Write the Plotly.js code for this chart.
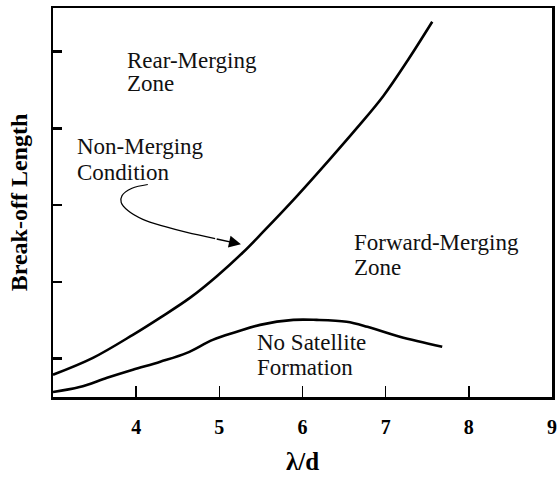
<!DOCTYPE html>
<html>
<head>
<meta charset="utf-8">
<script src="https://cdn.plot.ly/plotly-3.0.1.min.js"></script>
<style>html,body{margin:0;padding:0;background:#fff;}#chart{width:559px;height:477px;}</style>
</head>
<body>
<div id="chart"></div>
<script>
// Upper boundary (merging transition)
const upperX = [3.00, 3.48, 3.96, 4.29, 4.65, 4.97, 5.28, 5.52, 5.93, 6.33, 6.65, 6.97, 7.27, 7.56];
const upperY = [0.58, 1.02, 1.62, 2.07, 2.59, 3.15, 3.76, 4.29, 5.23, 6.20, 7.00, 7.84, 8.79, 9.78];
// Lower boundary (satellite formation)
const lowerX = [3.00, 3.32, 3.65, 3.96, 4.29, 4.61, 4.92, 5.21, 5.49, 5.89, 6.17, 6.53, 6.78, 7.17, 7.68];
const lowerY = [0.13, 0.26, 0.50, 0.71, 0.92, 1.15, 1.49, 1.70, 1.88, 2.01, 2.01, 1.96, 1.83, 1.57, 1.31];
// Pointer from "Non-Merging Condition" label to the upper curve
const arrowX = [4.14, 3.95, 3.83, 3.82, 3.90, 4.08, 4.35, 4.61, 4.95, 5.26];
const arrowY = [5.54, 5.44, 5.25, 5.07, 4.86, 4.63, 4.44, 4.29, 4.13, 3.98];
// Axis ticks
const xTickVals = [4, 5, 6, 7, 8, 9];
const xTickText = ['4', '5', '6', '7', '8', '9'];
const yTickVals = [1, 3, 5, 7, 9];
// Region labels
const labelText = ['Rear-Merging', 'Zone', 'Non-Merging', 'Condition', 'Forward-Merging', 'Zone', 'No Satellite', 'Formation'];
const labelX = [3.87, 3.87, 3.27, 3.27, 6.60, 6.60, 5.43, 5.43];
const labelY = [8.76, 8.16, 6.54, 5.86, 4.03, 3.37, 1.41, 0.76];

const serif = "'Liberation Serif', 'Times New Roman', Times, serif";

const traces = [
  {x: upperX, y: upperY, mode: 'lines', line: {color: '#000', width: 2.6, shape: 'spline', smoothing: 1}, hoverinfo: 'skip', showlegend: false},
  {x: lowerX, y: lowerY, mode: 'lines', line: {color: '#000', width: 2.6, shape: 'spline', smoothing: 1}, hoverinfo: 'skip', showlegend: false},
  {x: arrowX.slice(0, -1), y: arrowY.slice(0, -1), mode: 'lines', line: {color: '#000', width: 1.2, shape: 'spline', smoothing: 1}, hoverinfo: 'skip', showlegend: false}
];

const annotations = labelText.map((t, i) => ({
  x: labelX[i], y: labelY[i], xref: 'x', yref: 'y', text: t, showarrow: false,
  xanchor: 'left', yanchor: 'middle', font: {family: serif, size: 23, color: '#111'}
}));
// Arrow head
const n = arrowX.length;
annotations.push({
  x: arrowX[n - 1], y: arrowY[n - 1], xref: 'x', yref: 'y',
  ax: arrowX[n - 2], ay: arrowY[n - 2], axref: 'x', ayref: 'y',
  text: '', showarrow: true, arrowhead: 2, arrowsize: 1.6, arrowwidth: 1.5, arrowcolor: '#000'
});

const layout = {
  width: 559, height: 477,
  margin: {l: 53, r: 7, t: 8, b: 80},
  paper_bgcolor: '#fff', plot_bgcolor: '#fff',
  showlegend: false,
  font: {family: serif},
  xaxis: {
    range: [3, 9], tickvals: xTickVals, ticktext: xTickText,
    ticks: 'inside', ticklen: 11, tickwidth: 1.5, tickcolor: '#000',
    showline: true, linewidth: 2.5, linecolor: '#000', mirror: true,
    showgrid: false, zeroline: false,
    tickfont: {family: serif, size: 20, color: '#000', weight: 'bold'},
    ticklabelstandoff: 10,
    title: {text: '<b>λ/d</b>', font: {family: serif, size: 25, color: '#000'}, standoff: 16}
  },
  yaxis: {
    range: [0, 10.14], tickvals: yTickVals, showticklabels: false,
    ticks: 'inside', ticklen: 9, tickwidth: 2.5, tickcolor: '#000',
    showline: true, linewidth: 2.5, linecolor: '#000', mirror: true,
    showgrid: false, zeroline: false,
    title: {text: '<b>Break-off Length</b>', font: {family: serif, size: 24, color: '#000'}, standoff: 16}
  },
  annotations: annotations
};

Plotly.newPlot('chart', traces, layout, {staticPlot: true, displayModeBar: false});
</script>
</body>
</html>
